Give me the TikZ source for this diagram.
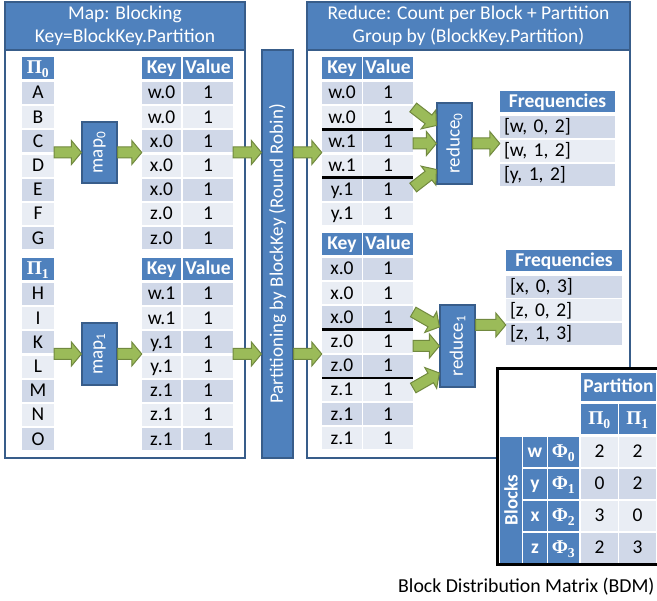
\documentclass[tikz,border=0pt]{standalone}
\usepackage{fontspec}
\setmainfont{Carlito}
\newfontfamily\grk{Liberation Serif}
\usetikzlibrary{calc}
\definecolor{hblue}{HTML}{4F81BD}
\definecolor{bdr}{HTML}{385D8A}
\definecolor{rdark}{HTML}{D0D8E8}
\definecolor{rlight}{HTML}{E9EDF4}
\definecolor{gfill}{HTML}{9BBB59}
\definecolor{gline}{HTML}{71893F}
\newcommand\Gk[2]{{\grk\bfseries #1\textsubscript{#2}}}
\newcommand\fatarr[2]{%
  \coordinate (fac) at ($(#2)!10pt!(#1)$);
  \draw[fatarrow] ($(#1)!5.5pt!90:(#2)$) -- ($(fac)!5.5pt!90:(#2)$) -- ($(fac)!12pt!90:(#2)$) -- (#2) -- ($(fac)!12pt!-90:(#2)$) -- ($(fac)!5.5pt!-90:(#2)$) -- ($(#1)!5.5pt!-90:(#2)$) -- cycle;}
\tikzset{
  fs/.style={font=\fontsize{19.5}{21}\selectfont},
  cell/.style={rectangle, inner sep=0pt, minimum height=22pt, text height=12pt, text depth=0pt, fs},
  hd/.style={cell, fill=hblue, text=white, font=\fontsize{19.5}{21}\selectfont\bfseries},
  rd/.style={cell, fill=rdark},
  rl/.style={cell, fill=rlight},
  panel/.style={rectangle, draw=bdr, line width=1.5pt, fill=white, inner sep=0pt},
  phead/.style={rectangle, draw=bdr, line width=1.5pt, fill=hblue, text=white, align=center, inner sep=0pt, font=\fontsize{19.5}{23}\selectfont},
  blk/.style={rectangle, draw=bdr, line width=1.2pt, fill=hblue, text=white, inner sep=0pt, font=\fontsize{19}{21}\selectfont},
  fatarrow/.style={fill=gfill, draw=gline, line width=1pt, line join=miter},
  sepline/.style={line width=2.5pt, black},
  fq/.style={cell, text width=107pt, inner xsep=4pt, align=left},
}
\begin{document}
\begin{tikzpicture}[x=1pt,y=-1pt]
\useasboundingbox (0,0) rectangle (657,601);
\clip (0,0) rectangle (657,601);
% panels
\node[panel, minimum width=240pt, minimum height=456pt] (lp) at (125,230) {};
\node[phead, minimum width=240pt, minimum height=48pt, anchor=north] (lph) at (lp.north) {Map: Blocking\\Key=BlockKey.Partition};
\node[panel, minimum width=323pt, minimum height=456pt] (rp) at (468.5,230) {};
\node[phead, minimum width=323pt, minimum height=48pt, anchor=north] (rph) at (rp.north) {Reduce: Count per Block + Partition\\Group by (BlockKey.Partition)};
% partitioning bar
\node[blk, minimum width=31pt, minimum height=408pt] (bar) at (277.5,254) {\rotatebox{90}{Partitioning by BlockKey (Round Robin)}};
% left top
\node[hd, minimum width=32pt] (p0h) at (38,68) {\Gk{Π}{0}};
\foreach \t/\s [count=\i] in {A/rd,B/rl,C/rd,D/rl,E/rd,F/rl,G/rd}
  \node[\s, minimum width=32pt] (p0\i) at (38,{68.8+24.2*\i}) {\t};
\node[hd, minimum width=39pt] (k0h) at (161.5,68) {Key};
\node[hd, minimum width=50pt] (v0h) at (208,68) {Value};
\foreach \t/\s [count=\i] in {w.0/rd,w.0/rl,x.0/rd,x.0/rl,x.0/rd,z.0/rl,z.0/rd}{
  \node[\s, minimum width=39pt] (k0\i) at (161.5,{68.8+24.2*\i}) {\t};
  \node[\s, minimum width=50pt] (v0\i) at (208,{68.8+24.2*\i}) {1};}
\node[blk, minimum width=35pt, minimum height=61pt] (m0) at (99.5,152.5) {\rotatebox{90}{map\textsubscript{0}}};
% left bottom
\node[hd, minimum width=32pt] (p1h) at (38,269) {\Gk{Π}{1}};
\foreach \t/\s [count=\i] in {H/rd,I/rl,K/rd,L/rl,M/rd,N/rl,O/rd}
  \node[\s, minimum width=32pt] (p1\i) at (38,{269.8+24.2*\i}) {\t};
\node[hd, minimum width=39pt] (k1h) at (161.5,269) {Key};
\node[hd, minimum width=50pt] (v1h) at (208,269) {Value};
\foreach \t/\s [count=\i] in {w.1/rd,w.1/rl,y.1/rd,y.1/rl,z.1/rd,z.1/rl,z.1/rd}{
  \node[\s, minimum width=39pt] (k1\i) at (161.5,{269.8+24.2*\i}) {\t};
  \node[\s, minimum width=50pt] (v1\i) at (208,{269.8+24.2*\i}) {1};}
\node[blk, minimum width=35pt, minimum height=62pt] (m1) at (99.5,354) {\rotatebox{90}{map\textsubscript{1}}};
% right top
\node[hd, minimum width=40pt] (rkh) at (342,68) {Key};
\node[hd, minimum width=50pt] (rvh) at (388,68) {Value};
\foreach \t/\s [count=\i] in {w.0/rd,w.0/rl,w.1/rd,w.1/rl,y.1/rd,y.1/rl}{
  \node[\s, minimum width=40pt] (rk\i) at (342,{68.8+24.2*\i}) {\t};
  \node[\s, minimum width=50pt] (rv\i) at (388,{68.8+24.2*\i}) {1};}
\draw[sepline] ($(rk2.south west)!.5!(rk3.north west)$) -- ($(rv2.south east)!.5!(rv3.north east)$);
\draw[sepline] ($(rk4.south west)!.5!(rk5.north west)$) -- ($(rv4.south east)!.5!(rv5.north east)$);
\node[blk, minimum width=35pt, minimum height=81pt] (r0) at (454.5,143.5) {\rotatebox{90}{reduce\textsubscript{0}}};
\node[hd, minimum width=115pt, minimum height=21pt] (f0h) at (557.5,101.5) {Frequencies};
\node[rd, fq] (f01) at (557.5,127) {[w, 0, 2]};
\node[rl, fq] (f02) at (557.5,151) {[w, 1, 2]};
\node[rd, fq] (f03) at (557.5,175) {[y, 1, 2]};
% right bottom
\node[hd, minimum width=40pt] (skh) at (342,244) {Key};
\node[hd, minimum width=50pt] (svh) at (388,244) {Value};
\foreach \t/\s [count=\i] in {x.0/rd,x.0/rl,x.0/rd,z.0/rl,z.0/rd,z.1/rl,z.1/rd,z.1/rl}{
  \node[\s, minimum width=40pt] (sk\i) at (342,{244.8+24.2*\i}) {\t};
  \node[\s, minimum width=50pt] (sv\i) at (388,{244.8+24.2*\i}) {1};}
\draw[sepline] ($(sk3.south west)!.5!(sk4.north west)$) -- ($(sv3.south east)!.5!(sv4.north east)$);
\draw[sepline] ($(sk5.south west)!.5!(sk6.north west)$) -- ($(sv5.south east)!.5!(sv6.north east)$);
\node[blk, minimum width=35pt, minimum height=82pt] (r1) at (457.5,346) {\rotatebox{90}{reduce\textsubscript{1}}};
\node[hd, minimum width=116pt, minimum height=21pt] (f1h) at (564,261) {Frequencies};
\node[rd, fq, text width=108pt] (f11) at (564,287) {[x, 0, 3]};
\node[rl, fq, text width=108pt] (f12) at (564,310.5) {[z, 0, 2]};
\node[rd, fq, text width=108pt] (f13) at (564,334) {[z, 1, 3]};
% arrows top
\coordinate (a1s) at (p04.east |- m0.west);
\fatarr{a1s}{m0.west}
\coordinate (a2e) at (k0h.west |- m0.east);
\fatarr{m0.east}{a2e}
\coordinate (a3s) at (v04.east |- m0.east);
\coordinate (a3e) at (bar.west |- m0.east);
\fatarr{a3s}{a3e}
\coordinate (a4s) at (bar.east |- m0.east);
\coordinate (a4e) at (rkh.west |- m0.east);
\fatarr{a4s}{a4e}
% arrows bottom
\coordinate (b1s) at (p14.east |- m1.west);
\fatarr{b1s}{m1.west}
\coordinate (b2e) at (k1h.west |- m1.east);
\fatarr{m1.east}{b2e}
\coordinate (b3s) at (v14.east |- m1.east);
\coordinate (b3e) at (bar.west |- m1.east);
\fatarr{b3s}{b3e}
\coordinate (b4s) at (bar.east |- m1.east);
\coordinate (b4e) at (skh.west |- m1.east);
\fatarr{b4s}{b4e}
% reduce arrows
\coordinate (c1s) at ($(rvh.east |- r0.west)+(0,-36)$);
\coordinate (c1e) at ($(r0.west)+(0,-18)$);
\fatarr{c1s}{c1e}
\coordinate (c2s) at (rvh.east |- r0.west);
\fatarr{c2s}{r0.west}
\coordinate (c3s) at ($(rvh.east |- r0.west)+(0,44)$);
\coordinate (c3e) at ($(r0.west)+(0,26)$);
\fatarr{c3s}{c3e}
\coordinate (c4e) at (f0h.west |- r0.east);
\fatarr{r0.east}{c4e}
\coordinate (d1s) at ($(svh.east |- r1.west)+(0,-34)$);
\coordinate (d1e) at ($(r1.west)+(0,-19)$);
\fatarr{d1s}{d1e}
\coordinate (d2s) at (svh.east |- r1.west);
\fatarr{d2s}{r1.west}
\coordinate (d3s) at ($(svh.east |- r1.west)+(0,42)$);
\coordinate (d3e) at ($(r1.west)+(0,27)$);
\fatarr{d3s}{d3e}
\coordinate (d4s) at ($(r1.east)+(0,-21)$);
\coordinate (d4e) at (f1h.west |- d4s);
\fatarr{d4s}{d4e}
% BDM
\node[rectangle, draw=black, line width=3pt, fill=white, minimum width=164pt, minimum height=196pt, inner sep=0pt] (bdm) at (579,467) {};
\node[hd, minimum width=75pt, minimum height=28pt] (ph) at (618.5,387) {Partition};
\node[hd, minimum width=37pt, minimum height=30pt] (pi0) at (599.5,419) {\Gk{Π}{0}};
\node[hd, minimum width=37pt, minimum height=30pt] (pi1) at (637.5,419) {\Gk{Π}{1}};
\node[blk, draw=none, minimum width=22pt, minimum height=126pt, font=\fontsize{19}{21}\selectfont\bfseries] (bl) at (511,500) {\rotatebox{90}{Blocks}};
\foreach \l/\n/\a/\b/\s [count=\i] in {w/0/2/2/rl,y/1/0/2/rd,x/2/3/0/rl,z/3/2/3/rd}{
  \node[hd, minimum width=24pt, minimum height=30pt] (bl\i) at (535,{420+32*\i}) {\l};
  \node[hd, minimum width=31pt, minimum height=30pt] (ph\i) at (563.5,{420+32*\i}) {\Gk{Φ}{\n}};
  \node[\s, minimum width=37pt, minimum height=30pt] (va\i) at (599.5,{420+32*\i}) {\a};
  \node[\s, minimum width=37pt, minimum height=30pt] (vb\i) at (637.5,{420+32*\i}) {\b};}
\node[anchor=base west, inner sep=0pt, font=\fontsize{19.8}{22}\selectfont] (cap) at (398,593) {Block Distribution Matrix (BDM)};
\end{tikzpicture}
\end{document}
